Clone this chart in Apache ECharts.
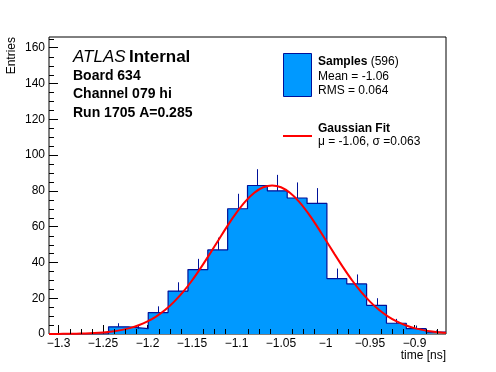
<!DOCTYPE html>
<html><head><meta charset="utf-8">
<script src="https://cdn.jsdelivr.net/npm/echarts@6/dist/echarts.min.js"></script>
<style>html,body{margin:0;padding:0;background:#fff}#c{width:496px;height:372px}</style>
</head><body><div id="c"></div>
<script>
// ---- data ----
const xMin = -1.3107, xMax = -0.8646;      // histogram range (20 bins)
const counts = [0, 0, 0, 4, 3, 12, 24, 36, 47, 70, 83, 80, 76, 73, 31, 28, 16, 6, 3, 1];
const curveX = [-1.3107, -1.30, -1.29, -1.28, -1.27, -1.26, -1.25, -1.24, -1.23, -1.22, -1.21, -1.20, -1.19, -1.18, -1.17, -1.16, -1.15, -1.14, -1.13, -1.12, -1.11, -1.10, -1.09, -1.08, -1.07, -1.06, -1.05, -1.04, -1.03, -1.02, -1.01, -1.00, -0.99, -0.98, -0.97, -0.96, -0.95, -0.94, -0.93, -0.92, -0.91, -0.90, -0.89, -0.88, -0.87, -0.8646];
const curveY = [0.03, 0.06, 0.11, 0.19, 0.32, 0.54, 0.88, 1.40, 2.17, 3.30, 4.88, 7.03, 9.88, 13.5, 18.1, 23.5, 29.9, 37.1, 44.8, 52.7, 60.6, 67.8, 74.1, 78.9, 82.0, 83.0, 82.0, 78.9, 74.1, 67.8, 60.6, 52.7, 44.8, 37.1, 29.9, 23.5, 18.1, 13.5, 9.88, 7.03, 4.88, 3.30, 2.17, 1.40, 0.88, 0.69];
const yMaxVal = 166;
const yTickStep = 20, yMinorStep = 5;
const xTickStep = 0.05, xMinorStep = 0.0125;
const titleLines = ['Board 634', 'Channel 079 hi', 'Run 1705 A=0.285'];
const legendSamples = ['Mean = -1.06', 'RMS = 0.064'];
const legendFit = 'μ = -1.06, σ =0.063';

// ---- derived ----
const nBins = counts.length;
const bw = (xMax - xMin) / nBins;
const stepData = [];
for (let i = 0; i <= nBins; i++) stepData.push([xMin + i * bw, counts[Math.min(i, nBins - 1)]]);
const errData = [];
counts.forEach((c, i) => { if (c > 0) errData.push([xMin + (i + 0.5) * bw, c, c + Math.sqrt(c)]); });
const curveData = curveX.map((x, i) => [x, curveY[i]]);
const xMinor = [];
for (let k = Math.ceil(xMin / xMinorStep - 1e-9); k * xMinorStep <= xMax; k++) {
  const v = k * xMinorStep;
  if (Math.abs(v / xTickStep - Math.round(v / xTickStep)) > 1e-6) xMinor.push([v, 0]);
}
const yMinor = [];
for (let v = yMinorStep; v < yMaxVal; v += yMinorStep) if (v % yTickStep !== 0) yMinor.push([xMin, v]);

const FONT = '"Liberation Sans", Arial, Helvetica, sans-serif';
const NAVY = '#001199', FILL = '#0099ff';
const fmtX = v => String(Math.round(v * 100) / 100).replace('-', '\u2212');

const chart = echarts.init(document.getElementById('c'), null, {renderer: 'canvas'});
chart.setOption({
  animation: false,
  backgroundColor: '#fff',
  grid: {left: 49, right: 50, top: 37, bottom: 38, show: true, borderColor: '#000', borderWidth: 1, backgroundColor: 'transparent'},
  xAxis: {
    type: 'value', min: xMin, max: xMax, splitNumber: 9,
    axisLine: {show: false}, splitLine: {show: false},
    axisTick: {show: true, inside: true, length: 9, lineStyle: {color: '#000'}},
    minorTick: {show: false},
    axisLabel: {show: true, margin: 4, color: '#000', fontFamily: FONT, fontSize: 12, showMinLabel: false, showMaxLabel: false, formatter: fmtX}
  },
  yAxis: {
    type: 'value', min: 0, max: yMaxVal, interval: yTickStep,
    axisLine: {show: false}, splitLine: {show: false},
    axisTick: {show: true, inside: true, length: 9, lineStyle: {color: '#000'}},
    minorTick: {show: false},
    axisLabel: {show: true, margin: 4, color: '#000', fontFamily: FONT, fontSize: 12, showMaxLabel: false}
  },
  series: [
    {
      name: 'Samples', type: 'line', step: 'end', data: stepData, symbol: 'none',
      lineStyle: {color: NAVY, width: 1.2}, areaStyle: {color: FILL, opacity: 1}, z: 2, silent: true
    },
    {
      name: 'errors', type: 'custom', data: errData, z: 3, silent: true,
      renderItem: (p, api) => {
        const a = api.coord([api.value(0), api.value(1)]);
        const b = api.coord([api.value(0), api.value(2)]);
        const x = Math.round(a[0]) + 0.5;
        return {type: 'line', shape: {x1: x, y1: a[1], x2: x, y2: b[1]}, style: {stroke: NAVY, lineWidth: 1}};
      }
    },
    {
      name: 'Gaussian Fit', type: 'line', data: curveData, smooth: 0.3, symbol: 'none',
      lineStyle: {color: '#ff0000', width: 2}, z: 4, silent: true
    },
    {
      name: 'xminor', type: 'custom', data: xMinor, z: 5, silent: true,
      renderItem: (p, api) => {
        const a = api.coord([api.value(0), api.value(1)]);
        const x = Math.round(a[0]) + 0.5;
        return {type: 'line', shape: {x1: x, y1: a[1], x2: x, y2: a[1] - 5}, style: {stroke: '#000', lineWidth: 1}};
      }
    },
    {
      name: 'yminor', type: 'custom', data: yMinor, z: 5, silent: true,
      renderItem: (p, api) => {
        const a = api.coord([api.value(0), api.value(1)]);
        const y = Math.round(a[1]) + 0.5;
        return {type: 'line', shape: {x1: a[0], y1: y, x2: a[0] + 5, y2: y}, style: {stroke: '#000', lineWidth: 1}};
      }
    }
  ],
  graphic: [
    {type: 'text', x: 73, y: 57, z: 10, style: {text: '{i|ATLAS} {b|Internal}', verticalAlign: 'middle',
      rich: {i: {font: 'italic 17px ' + FONT, fill: '#000'}, b: {font: 'bold 17px ' + FONT, fill: '#000'}}}},
    {type: 'text', x: 73, y: 76, z: 10, style: {text: titleLines[0], font: 'bold 14px ' + FONT, fill: '#000', verticalAlign: 'middle'}},
    {type: 'text', x: 73, y: 94.5, z: 10, style: {text: titleLines[1], font: 'bold 14px ' + FONT, fill: '#000', verticalAlign: 'middle'}},
    {type: 'text', x: 73, y: 113.5, z: 10, style: {text: titleLines[2], font: 'bold 14px ' + FONT, fill: '#000', verticalAlign: 'middle'}},
    {type: 'rect', z: 10, shape: {x: 283.5, y: 53.5, width: 28, height: 43}, style: {fill: FILL, stroke: NAVY, lineWidth: 1}},
    {type: 'text', x: 318, y: 62, z: 10, style: {text: '{b|Samples} {n|(596)}', verticalAlign: 'middle',
      rich: {b: {font: 'bold 12px ' + FONT, fill: '#000'}, n: {font: '12px ' + FONT, fill: '#000'}}}},
    {type: 'text', x: 318, y: 76.5, z: 10, style: {text: legendSamples[0], font: '12px ' + FONT, fill: '#000', verticalAlign: 'middle'}},
    {type: 'text', x: 318, y: 90.5, z: 10, style: {text: legendSamples[1], font: '12px ' + FONT, fill: '#000', verticalAlign: 'middle'}},
    {type: 'line', z: 10, shape: {x1: 283, y1: 136, x2: 312, y2: 136}, style: {stroke: '#ff0000', lineWidth: 2}},
    {type: 'text', x: 318, y: 129, z: 10, style: {text: 'Gaussian Fit', font: 'bold 12px ' + FONT, fill: '#000', verticalAlign: 'middle'}},
    {type: 'text', x: 318, y: 142, z: 10, style: {text: legendFit, font: '12px ' + FONT, fill: '#000', verticalAlign: 'middle'}},
    {type: 'text', x: 446, y: 356, z: 10, style: {text: 'time [ns]', font: '12px ' + FONT, fill: '#000', align: 'right', verticalAlign: 'middle'}},
    {type: 'text', x: 12, y: 37, rotation: Math.PI / 2, z: 10, style: {text: 'Entries', font: '12px ' + FONT, fill: '#000', align: 'right', verticalAlign: 'middle'}}
  ]
});
</script>
</body></html>
